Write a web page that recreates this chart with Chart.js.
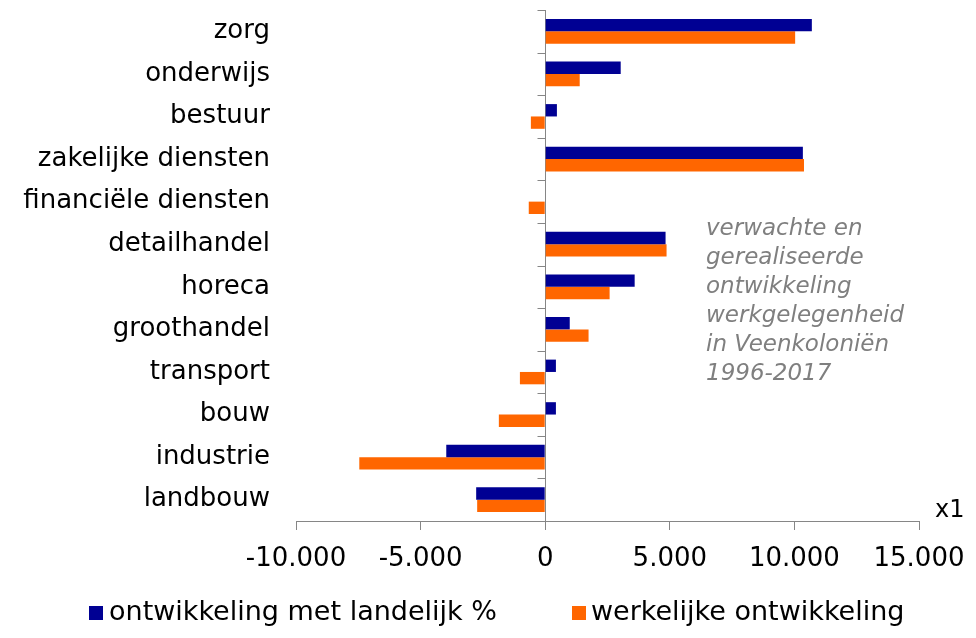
<!DOCTYPE html>
<html>
<head>
<meta charset="utf-8">
<script src="https://cdn.jsdelivr.net/npm/chart.js@4"></script>
<style>
  html, body { margin: 0; padding: 0; background: #fff; }
  #wrap { width: 976px; height: 638px; }
</style>
</head>
<body>
<div id="wrap"><canvas id="chart"></canvas></div>
<script>
// werkgelegenheid Veenkoloniën, verwacht vs gerealiseerd (1996-2017)

const sectors = ['zorg', 'onderwijs', 'bestuur', 'zakelijke diensten', 'financiële diensten',
    'detailhandel', 'horeca', 'groothandel', 'transport', 'bouw', 'industrie', 'landbouw'];

const landelijk = [10700, 3030, 470, 10340, 0, 4830, 3590, 985, 430, 430, -3970, -2770];
const werkelijk = [10030, 1385, -575, 10385, -660, 4870, 2585, 1740, -1015, -1860, -7460, -2730];

const xTicks = [-10000, -5000, 0, 5000, 10000, 15000];
const xTickLabels = ['-10.000', '-5.000', '0', '5.000', '10.000', '15.000'];

const seriesNames = ['ontwikkeling met landelijk %', 'werkelijke ontwikkeling'];
const noteLines = ['verwachte en', 'gerealiseerde', 'ontwikkeling', 'werkgelegenheid', 'in Veenkoloniën', '1996-2017'];

const FONT = 'DejaVu Sans';
const AXIS_GREY = '#868686';

// korte streepjes links van de nullijn, tussen de categorieën
const zeroTicks = {
    id: 'zeroTicks',
    afterDatasetsDraw(chart) {
        const { ctx, scales: { x, y } } = chart;
        const x0 = Math.round(x.getPixelForValue(0)) + 0.5;
        ctx.save();
        ctx.strokeStyle = AXIS_GREY;
        ctx.lineWidth = 1;
        for (let i = 0; i <= sectors.length; i++) {
            const yy = Math.round(y.getPixelForValue(i - 0.5)) + 0.5;
            ctx.beginPath();
            ctx.moveTo(x0 - 8, yy);
            ctx.lineTo(x0, yy);
            ctx.stroke();
        }
        ctx.restore();
    }
};

const extraText = {
    id: 'extraText',
    afterDraw(chart) {
        const { ctx, chartArea } = chart;
        ctx.save();
        // toelichting
        ctx.font = 'italic 23px "' + FONT + '"';
        ctx.fillStyle = '#7f7f7f';
        ctx.textBaseline = 'middle';
        ctx.textAlign = 'left';
        noteLines.forEach((line, i) => {
            ctx.fillText(line, 706, 229 + i * 29);
        });
        // eenheid
        ctx.font = '24px "' + FONT + '"';
        ctx.fillStyle = '#000';
        ctx.fillText('x1', chartArea.right + 16, chartArea.bottom - 10);

        // legenda
        const items = [{ box: 89, text: 109 }, { box: 572, text: 591 }];
        ctx.font = '27px "' + FONT + '"';
        chart.data.datasets.forEach((ds, i) => {
            ctx.fillStyle = ds.backgroundColor;
            ctx.fillRect(items[i].box, 606, 14, 14);
            ctx.fillStyle = '#000';
            ctx.fillText(ds.label, items[i].text, 613);
        });
        ctx.restore();
    }
};

new Chart(document.getElementById('chart'), {
    type: 'bar',
    data: {
        labels: sectors,
        datasets: [
            {
                label: seriesNames[0],
                data: landelijk,
                backgroundColor: '#000093'
            },
            {
                label: seriesNames[1],
                data: werkelijk,
                backgroundColor: '#ff6600'
            }
        ]
    },
    options: {
        indexAxis: 'y',
        responsive: true,
        maintainAspectRatio: false,
        animation: false,
        categoryPercentage: 0.58,
        barPercentage: 1.0,
        layout: {
            padding: { top: 10, right: 57, left: 0, bottom: 0 }
        },
        scales: {
            x: {
                min: -10000,
                max: 15000,
                afterBuildTicks: (scale) => {
                    scale.ticks = xTicks.map(v => ({ value: v }));
                },
                afterFit: (scale) => {
                    scale.height = 117;
                    scale.paddingLeft = 0;
                    scale.paddingRight = 0;
                },
                grid: {
                    color: (c) => (c.tick && c.tick.value === 0 ? AXIS_GREY : 'rgba(0,0,0,0)'),
                    tickColor: AXIS_GREY,
                    tickLength: 9,
                    drawTicks: true
                },
                border: { display: true, color: AXIS_GREY },
                ticks: {
                    color: '#000',
                    padding: 14,
                    maxRotation: 0,
                    font: { family: FONT, size: 26 },
                    callback: (value, index) => xTickLabels[index]
                }
            },
            y: {
                afterFit: (scale) => {
                    scale.width = 296;
                    scale.paddingTop = 0;
                    scale.paddingBottom = 0;
                },
                grid: { display: false },
                border: { display: false },
                ticks: {
                    color: '#000',
                    padding: 18,
                    font: { family: FONT, size: 26 }
                }
            }
        },
        plugins: {
            legend: { display: false },
            tooltip: { enabled: false }
        }
    },
    plugins: [zeroTicks, extraText]
});
</script>
</body>
</html>
